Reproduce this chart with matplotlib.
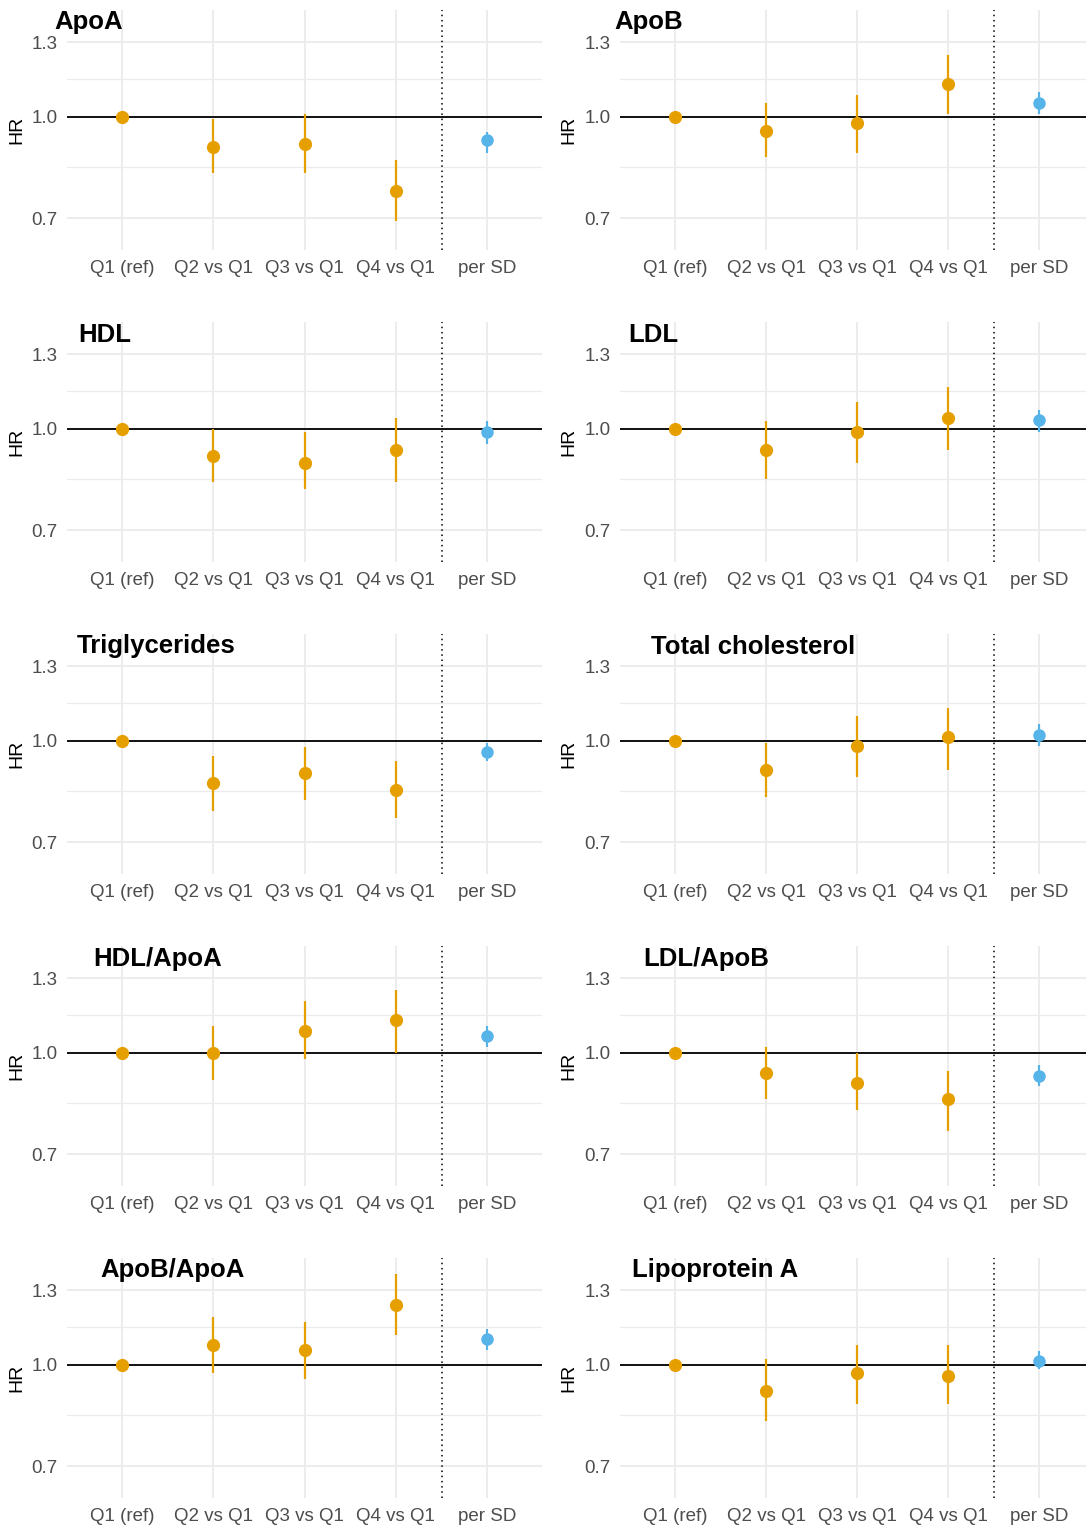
import matplotlib.pyplot as plt
from matplotlib.ticker import FixedLocator, NullFormatter

plt.rcParams['font.family'] = ['Liberation Sans', 'DejaVu Sans']

# categories on the x axis
categories = ['Q1 (ref)', 'Q2 vs Q1', 'Q3 vs Q1', 'Q4 vs Q1', 'per SD']

# one panel per lipid measure
panels = ['ApoA', 'ApoB', 'HDL', 'LDL', 'Triglycerides', 'Total cholesterol',
          'HDL/ApoA', 'LDL/ApoB', 'ApoB/ApoA', 'Lipoprotein A']

# hazard ratios (row = panel, column = category)
hr = [
    [1.0, 0.900, 0.910, 0.771, 0.920],
    [1.0, 0.950, 0.979, 1.120, 1.049],
    [1.0, 0.908, 0.888, 0.928, 0.988],
    [1.0, 0.929, 0.988, 1.039, 1.031],
    [1.0, 0.861, 0.892, 0.841, 0.961],
    [1.0, 0.901, 0.980, 1.012, 1.022],
    [1.0, 1.000, 1.080, 1.120, 1.060],
    [1.0, 0.930, 0.899, 0.850, 0.921],
    [1.0, 1.072, 1.053, 1.232, 1.093],
    [1.0, 0.911, 0.971, 0.961, 1.013],
]
# lower 95% CI
lower = [
    [1.0, 0.821, 0.821, 0.692, 0.880],
    [1.0, 0.869, 0.879, 1.009, 1.011],
    [1.0, 0.829, 0.809, 0.829, 0.949],
    [1.0, 0.839, 0.888, 0.928, 0.988],
    [1.0, 0.780, 0.811, 0.761, 0.932],
    [1.0, 0.820, 0.880, 0.901, 0.981],
    [1.0, 0.910, 0.979, 1.000, 1.021],
    [1.0, 0.851, 0.819, 0.759, 0.890],
    [1.0, 0.971, 0.952, 1.110, 1.053],
    [1.0, 0.820, 0.871, 0.871, 0.984],
]
# upper 95% CI
upper = [
    [1.0, 0.991, 1.008, 0.860, 0.949],
    [1.0, 1.048, 1.078, 1.241, 1.089],
    [1.0, 1.000, 0.987, 1.038, 1.029],
    [1.0, 1.029, 1.098, 1.158, 1.067],
    [1.0, 0.949, 0.979, 0.930, 0.993],
    [1.0, 0.991, 1.089, 1.120, 1.062],
    [1.0, 1.100, 1.201, 1.248, 1.098],
    [1.0, 1.020, 1.000, 0.939, 0.959],
    [1.0, 1.181, 1.160, 1.374, 1.132],
    [1.0, 1.021, 1.072, 1.072, 1.050],
]

# title left edge in pixels (titles are not aligned in the original)
title_x = [54, 614, 78, 628, 77, 651, 93, 643, 100, 632]

W, H = 1086, 1527
fig = plt.figure(figsize=(W / 100, H / 100), dpi=100)

orange = '#E69F00'
blue = '#56B4E9'
colors = [orange] * 4 + [blue]
xs = list(range(1, 6))

for i, name in enumerate(panels):
    row, col = divmod(i, 2)
    left_px = 67.2 if col == 0 else 620.4
    width_px = 474.8 if col == 0 else 473.2
    top_px = 10 + 312 * row
    ax = fig.add_axes([left_px / W, 1 - (top_px + 240) / H, width_px / W, 240 / H])

    ax.set_yscale('log')
    ax.set_ylim(0.626, 1.455)
    ax.set_xlim(0.4, 5.6)

    # grid
    ax.yaxis.set_major_locator(FixedLocator([0.7, 1.0, 1.3]))
    ax.yaxis.set_minor_locator(FixedLocator([0.7 ** 0.5, 1.3 ** 0.5]))
    ax.yaxis.set_minor_formatter(NullFormatter())
    ax.set_yticklabels(['0.7', '1.0', '1.3'])
    ax.set_xticks(xs)
    ax.set_xticklabels(categories)
    ax.grid(True, which='major', color='#EBEBEB', lw=1.3, zorder=0)
    ax.grid(True, which='minor', axis='y', color='#EBEBEB', lw=0.9, zorder=0)
    ax.set_axisbelow(True)
    for s in ax.spines.values():
        s.set_visible(False)
    ax.tick_params(which='both', length=0)
    ax.tick_params(axis='y', pad=7, labelsize=13.5, labelcolor='#4D4D4D')
    ax.tick_params(axis='x', pad=7.5, labelsize=13.5, labelcolor='#4D4D4D')

    # reference lines
    ax.axhline(1.0, color='black', lw=1.3, zorder=1)
    ax.axvline(4.5, color='black', lw=1.1, linestyle=(0, (1, 2.4)), zorder=1)

    # estimates with confidence intervals
    for x, h, lo, hi, c in zip(xs, hr[i], lower[i], upper[i], colors):
        ax.vlines(x, lo, hi, color=c, lw=1.6, zorder=2)
        ax.plot(x, h, 'o', color=c, ms=9.5 if c == orange else 9, mec='none', zorder=3)

    fig.text(title_x[i] / W, 1 - (29.5 + 312 * row) / H, name, fontsize=18.5,
             fontweight='bold', ha='left', va='baseline')
    hr_x = 17 if col == 0 else 569
    fig.text(hr_x / W, 1 - (130 + 312 * row) / H, 'HR', fontsize=14,
             rotation=90, ha='center', va='center')

plt.savefig('out.png', dpi=100)
